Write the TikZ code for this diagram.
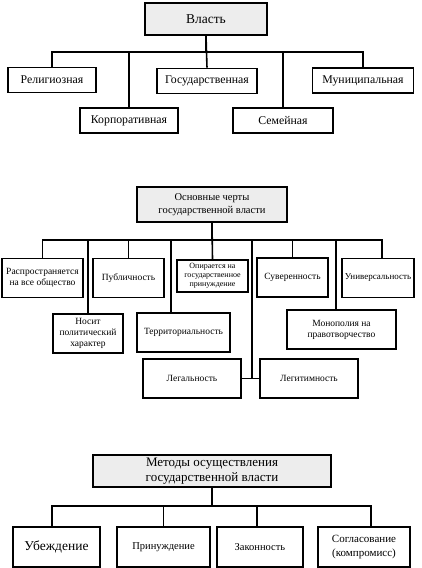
\documentclass[tikz,border=0pt]{standalone}
\usepackage{fontspec}
\setmainfont{Liberation Serif}
\usetikzlibrary{positioning}

\begin{document}
\begin{tikzpicture}[
  x=1pt, y=-1pt,
  headbox/.style={
    draw=black, line width=1.9pt,
    fill=black!7,
    align=center, inner sep=1pt
  },
  kindbox/.style={
    draw=black, line width=1.6pt, fill=white,
    align=center, inner sep=1pt,
    minimum height=25pt, font=\fontsize{11.8}{13}\selectfont
  },
  featbox/.style={
    draw=black, line width=1.6pt, fill=white,
    align=center, inner sep=1pt,
    minimum height=39pt, font=\fontsize{9.5}{11}\selectfont
  },
  methbox/.style={
    draw=black, line width=1.6pt, fill=white,
    align=center, inner sep=1pt,
    minimum height=40pt, font=\fontsize{10.5}{14}\selectfont
  },
  link/.style={line width=1.6pt, draw=black}
]
\useasboundingbox (0,0) rectangle (422,568);

% --- kinds of power
\node[headbox, minimum width=122pt, minimum height=32pt,
      font=\fontsize{13.5}{15}\selectfont] (vlast) at (206,19) {Власть};
\node[kindbox, minimum width=88pt]  (rel)  at (52,80)    {Религиозная};
\node[kindbox, minimum width=100pt] (gos)  at (207,81)   {Государственная};
\node[kindbox, minimum width=101pt] (mun)  at (363,80.5) {Муниципальная};
\node[kindbox, minimum width=98pt]  (korp) at (129,120.5) {Корпоративная};
\node[kindbox, minimum width=100pt] (sem)  at (283,120.5) {Семейная};

\draw[link] (vlast.south) -- ++(0,16) -| (rel.north);
\draw[link] (vlast.south) -- ++(0,16) -| (korp.north);
\draw[link] (vlast.south) -- (gos.north);
\draw[link] (vlast.south) -- ++(0,16) -| (sem.north);
\draw[link] (vlast.south) -- ++(0,16) -| (mun.north);

% --- features of state power
\node[headbox, minimum width=150pt, minimum height=35pt,
      font=\fontsize{10.5}{13}\selectfont] (osn) at (212,204.5)
  {Основные черты\\государственной власти};
\node[featbox, minimum width=81pt]  (rasp)  at (42.5,278)  {Распространяется\\на все общество};
\node[featbox, minimum width=71pt]  (pub)   at (128.5,278) {Публичность};
\node[featbox, minimum width=71pt, minimum height=32pt,
      font=\fontsize{8}{9}\selectfont] (opir) at (212.5,276)
  {Опирается на\\государственное\\принуждение};
\node[featbox, minimum width=71pt]  (suv)   at (292.5,277.5) {Суверенность};
\node[featbox, minimum width=72pt, font=\fontsize{9}{11}\selectfont]
  (univ) at (378,278) {Универсальность};
\node[featbox, minimum width=70pt]  (nosit) at (88,333.5)  {Носит\\политический\\характер};
\node[featbox, minimum width=93pt]  (terr)  at (183.5,332.5) {Территориальность};
\node[featbox, minimum width=109pt] (mono)  at (341.5,329.5) {Монополия на\\правотворчество};
\node[featbox, minimum width=98pt]  (leg)   at (192,378.5) {Легальность};
\node[featbox, minimum width=98pt]  (legit) at (309,378.5) {Легитимность};
\coordinate (lj) at (252,378.5);

\draw[link] (osn.south) -- ++(0,17) -| (rasp.north);
\draw[link] (osn.south) -- ++(0,17) -| (nosit.north);
\draw[link] (osn.south) -- ++(0,17) -| (pub.north);
\draw[link] (osn.south) -- ++(0,17) -| ([xshift=-12.5pt]terr.north);
\draw[link] (osn.south) -- (opir.north);
\draw[link] (osn.south) -- ++(0,17) -| (lj);
\draw[link] (osn.south) -- ++(0,17) -| (suv.north);
\draw[link] (osn.south) -- ++(0,17) -| ([xshift=-5.5pt]mono.north);
\draw[link] (osn.south) -- ++(0,17) -| ([xshift=4pt]univ.north);
\draw[link] (leg.east) -- (legit.west);

% --- methods of state power
\node[headbox, minimum width=238pt, minimum height=32pt,
      font=\fontsize{13}{15.5}\selectfont] (met) at (212,471)
  {Методы осуществления\\государственной власти};
\node[methbox, minimum width=87pt, font=\fontsize{13.5}{16}\selectfont]
  (ube) at (56.5,547) {Убеждение};
\node[methbox, minimum width=93pt] (prin) at (163.5,547) {Принуждение};
\node[methbox, minimum width=86pt] (zak)  at (260,547)   {Законность};
\node[methbox, minimum width=92pt, font=\fontsize{11}{14}\selectfont]
  (sogl) at (364,547) {Согласование\\(компромисс)};

\draw[link] (met.south) -- ++(0,18) -| ([xshift=-4.5pt]ube.north);
\draw[link] (met.south) -- ++(0,18) -| (prin.north);
\draw[link] (met.south) -- ++(0,18) -| ([xshift=-3pt]zak.north);
\draw[link] (met.south) -- ++(0,18) -| ([xshift=7pt]sogl.north);
\end{tikzpicture}
\end{document}
